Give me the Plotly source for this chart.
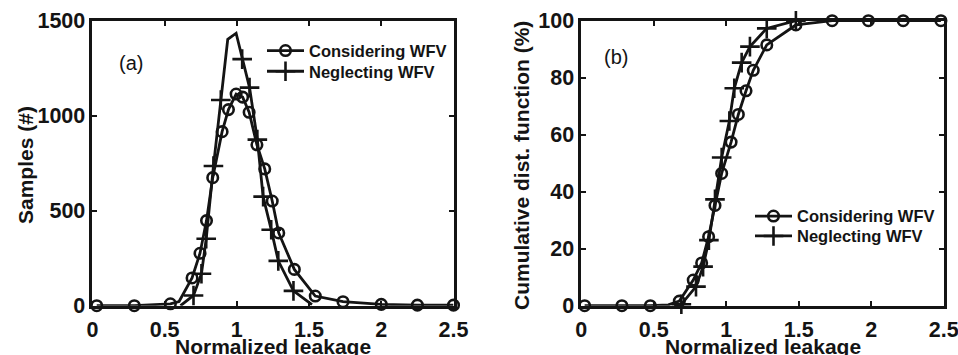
import plotly.graph_objects as go

# ---------------- data ----------------
# Panel (a): histogram of samples vs normalized leakage
cons_a_x = [0.03, 0.29, 0.54, 0.69, 0.745, 0.79, 0.833, 0.898, 0.942, 0.995, 1.04, 1.085, 1.139, 1.193, 1.245, 1.29, 1.398, 1.543, 1.735, 2.0, 2.25, 2.5]
cons_a_y = [0, 0, 10, 146, 276, 448, 674, 916, 1032, 1114, 1098, 1018, 847, 720, 551, 383, 191, 51, 21, 7, 3, 3]
cons_a_extra_x = [0.60]
cons_a_extra_y = [22]

negl_a_x = [0.70, 0.755, 0.788, 0.838, 0.889, 1.037, 1.088, 1.142, 1.182, 1.238, 1.287, 1.392]
negl_a_y = [54, 168, 352, 735, 1083, 1298, 1148, 874, 574, 400, 236, 78]
negl_a_extra_x = [0.61, 0.937, 0.995, 1.52]
negl_a_extra_y = [0, 1402, 1434, 6]

# Panel (b): cumulative distribution function (%)
cons_b_x = [0.023, 0.28, 0.476, 0.676, 0.772, 0.83, 0.878, 0.922, 0.968, 1.033, 1.083, 1.136, 1.186, 1.279, 1.48, 1.73, 1.98, 2.22, 2.48]
cons_b_y = [0, 0, 0, 1.6, 9.0, 15.0, 24.2, 35.2, 46.4, 57.4, 67.1, 75.4, 82.6, 91.5, 98.5, 100, 100, 100, 100]
cons_b_extra_x = [0.60]
cons_b_extra_y = [0.3]

negl_b_x = [0.69, 0.791, 0.84, 0.88, 0.922, 0.968, 1.021, 1.055, 1.106, 1.163, 1.279, 1.48]
negl_b_y = [0.5, 6.7, 13.7, 23.0, 37.3, 52.0, 64.8, 76.3, 85.3, 90.9, 97.3, 100]
negl_b_extra_x = [0.64]
negl_b_extra_y = [0]

x_ticks = [0, 0.5, 1, 1.5, 2, 2.5]
x_tick_labels = ["0", "0.5", "1", "1.5", "2", "2.5"]
ya_ticks = [0, 500, 1000, 1500]
yb_ticks = [0, 20, 40, 60, 80, 100]

series_names = ["Considering WFV", "Neglecting WFV"]
x_title = "Normalized leakage"
ya_title = "Samples (#)"
yb_title = "Cumulative dist. function (%)"
panel_labels = ["(a)", "(b)"]


def merged(mx, my, ex, ey):
    pts = sorted(zip(list(mx) + list(ex), list(my) + list(ey)))
    return [p[0] for p in pts], [p[1] for p in pts]


# ---------------- figure ----------------
W, H = 958, 355
FONT = "Liberation Sans"
BLACK = "#141414"
LW = 2.8

fig = go.Figure()

panels = [
    ("x", "y", ("legend", "legend3"), (cons_a_x, cons_a_y, cons_a_extra_x, cons_a_extra_y),
     (negl_a_x, negl_a_y, negl_a_extra_x, negl_a_extra_y)),
    ("x2", "y2", ("legend2", "legend4"), (cons_b_x, cons_b_y, cons_b_extra_x, cons_b_extra_y),
     (negl_b_x, negl_b_y, negl_b_extra_x, negl_b_extra_y)),
]

circle_marker = dict(symbol="circle-open", size=10.5, color=BLACK, line=dict(width=2.6, color=BLACK))
plus_marker = dict(symbol="cross-thin", size=14, color=BLACK, line=dict(width=2.6, color=BLACK))

for xa, ya, lgs, cons, negl in panels:
    for (mx, my, ex, ey), mk in ((negl, plus_marker), (cons, circle_marker)):
        lx, ly = merged(mx, my, ex, ey)
        fig.add_trace(go.Scatter(x=lx, y=ly, mode="lines", xaxis=xa, yaxis=ya,
                                 line=dict(color=BLACK, width=LW), showlegend=False,
                                 cliponaxis=False, hoverinfo="skip"))
        fig.add_trace(go.Scatter(x=mx, y=my, mode="markers", xaxis=xa, yaxis=ya,
                                 marker=mk, showlegend=False, cliponaxis=False))
    # legend entries (one legend box per row to control spacing)
    for name, mk, lg in zip(series_names, (circle_marker, plus_marker), lgs):
        fig.add_trace(go.Scatter(x=[None], y=[None], mode="lines+markers", xaxis=xa, yaxis=ya,
                                 name=name, legend=lg, line=dict(color=BLACK, width=LW),
                                 marker=mk))

ydom = [(H - 305.7) / H, (H - 20.7) / H]
xdom1 = [92.4 / W, 453.5 / W]
xdom2 = [581.3 / W, 943.8 / W]

tickfont = dict(family=FONT, size=21.5, color=BLACK, weight="bold")
titlefont = dict(family=FONT, size=21, color=BLACK, weight="bold")
legfont = dict(family=FONT, size=16.5, color=BLACK, weight="bold")

common_axis = dict(showline=True, linewidth=2.6, linecolor=BLACK, mirror="ticks",
                   ticks="inside", ticklen=5, tickwidth=1.6, tickcolor=BLACK,
                   showgrid=False, zeroline=False, tickfont=tickfont, automargin=False,
                   ticklabeloverflow="allow")


def leg(x_px, y_px):
    return dict(x=x_px / W, y=(H - y_px) / H, xanchor="left", yanchor="middle",
                bgcolor="rgba(0,0,0,0)", borderwidth=0, tracegroupgap=0,
                itemwidth=37, font=legfont)


def text_at(txt, x_px, y_px, font, angle=0):
    return dict(text=txt, x=x_px / W, y=(H - y_px) / H, xref="paper", yref="paper",
                xanchor="center", yanchor="middle", textangle=angle,
                showarrow=False, font=font)


fig.update_layout(
    width=W, height=H,
    margin=dict(l=0, r=0, t=0, b=0, autoexpand=False),
    paper_bgcolor="white", plot_bgcolor="white",
    xaxis=dict(domain=xdom1, range=[0, 2.5], tickvals=x_ticks, ticktext=x_tick_labels,
               anchor="y", ticklabelstandoff=3, **common_axis),
    yaxis=dict(domain=ydom, range=[0, 1500], tickvals=ya_ticks, anchor="x", **common_axis),
    xaxis2=dict(domain=xdom2, range=[0, 2.5], tickvals=x_ticks, ticktext=x_tick_labels,
                anchor="y2", ticklabelstandoff=3, **common_axis),
    yaxis2=dict(domain=ydom, range=[0, 100], tickvals=yb_ticks, anchor="x2", **common_axis),
    legend=leg(262, 50.8),
    legend3=leg(262, 71.5),
    legend2=leg(750, 216.3),
    legend4=leg(750, 236.2),
    showlegend=True,
    annotations=[
        text_at(x_title, 272.5, 346.5, titlefont),
        text_at(x_title, 762.6, 346.5, titlefont),
        text_at(ya_title, 25, 165, titlefont, -90),
        text_at(yb_title, 521, 166, titlefont, -90),
        text_at(panel_labels[0], 131, 63, dict(family=FONT, size=20, color=BLACK)),
        text_at(panel_labels[1], 615.5, 57, dict(family=FONT, size=20, color=BLACK)),
    ],
)

fig.write_html("out.html")
